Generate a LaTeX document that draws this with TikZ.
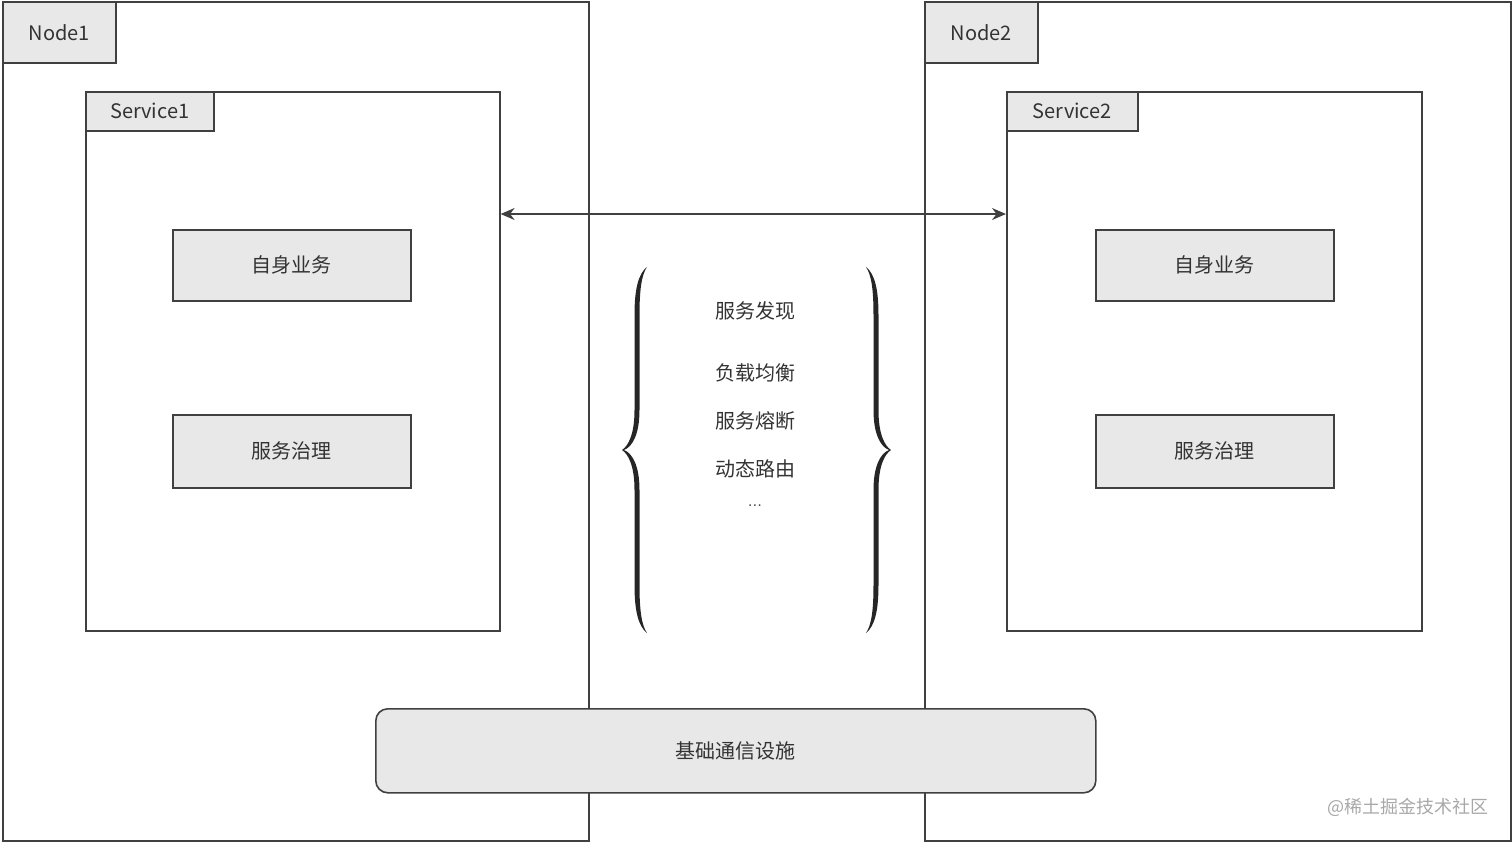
\documentclass[tikz,border=0pt]{standalone}
\usepackage{fontspec}
\newfontfamily\cjk{Noto Sans CJK SC}
\usetikzlibrary{arrows.meta, positioning}
\definecolor{linegray}{HTML}{404040}
\definecolor{boxgray}{HTML}{E8E8E8}
\definecolor{markgray}{HTML}{A8A8A8}

\begin{document}
\begin{tikzpicture}[x=0.5pt, y=-0.5pt, >=Stealth, font=\cjk\fontsize{10}{12}\selectfont,
    frame/.style={draw=linegray, line width=0.8pt, inner sep=0pt, anchor=north west},
    tab/.style={frame, fill=boxgray, text=black!80},
    func/.style={frame, fill=boxgray, text=black!80, minimum width=119pt},
    item/.style={text=black!80},
    curly/.pic={
        \fill[black!85] (25,-183) .. controls (16,-176) and (12.5,-160) .. (12.5,-135) -- (12.5,-40)
            .. controls (12.5,-15) and (6,-4) .. (0,0) .. controls (6,4) and (12.5,15) .. (12.5,40)
            -- (12.5,135) .. controls (12.5,160) and (16,176) .. (25,183)
            .. controls (19.5,175) and (17.5,160) .. (17.5,135) -- (17.5,40)
            .. controls (17.5,15) and (10,3) .. (2,0) .. controls (10,-3) and (17.5,-15) .. (17.5,-40)
            -- (17.5,-135) .. controls (17.5,-160) and (19.5,-175) .. (25,-183) -- cycle;
    }]
    \useasboundingbox (0,0) rectangle (1512,842);

    % 两个节点外框与左上角标签
    \node[frame, minimum width=293pt, minimum height=419.5pt] (node1) at (2,1) {};
    \node[frame, minimum width=293pt, minimum height=419.5pt] (node2) at (924,1) {};
    \node[tab, minimum width=56.5pt, minimum height=30.5pt] (tab1) at (node1.north west) {Node1};
    \node[tab, minimum width=56.5pt, minimum height=30.5pt] (tab2) at (node2.north west) {Node2};

    % 服务框
    \node[frame, minimum width=207pt, minimum height=269.5pt] (svc1) at (85,91) {};
    \node[frame, minimum width=207.5pt, minimum height=269.5pt] (svc2) at (1006,91) {};
    \node[tab, minimum width=64pt, minimum height=19.5pt] (stab1) at (svc1.north west) {Service1};
    \node[tab, minimum width=65.5pt, minimum height=19.5pt] (stab2) at (svc2.north west) {Service2};

    % 服务内部功能块
    \node[func, minimum height=35.5pt] (biz1) at (172,229) {自身业务};
    \node[func, minimum height=36.5pt] (gov1) at (172,414) {服务治理};
    \node[func, minimum height=35.5pt] (biz2) at (1095,229) {自身业务};
    \node[func, minimum height=36.5pt] (gov2) at (1095,414) {服务治理};

    % 服务之间的双向调用
    \draw[linegray, line width=0.8pt, {Stealth[length=7pt, width=6pt]}-{Stealth[length=7pt, width=6pt]}]
        (svc1.east |- 0,214) -- (svc2.west |- 0,214);

    % 中间的治理能力列表
    \pic (lbrace) at (622,450) {curly};
    \pic[xscale=-1] (rbrace) at (891,450) {curly};
    \node[item] (disc) at (755,311) {服务发现};
    \node[item] (lb) at (755,373) {负载均衡};
    \node[item] (cb) at (755,421) {服务熔断};
    \node[item] (route) at (755,469) {动态路由};
    \node[item, font=\fontsize{8}{9}\selectfont] (more) at (755,506) {...};

    % 底部基础设施
    \node[frame, fill=boxgray, rounded corners=6pt, minimum width=360pt, minimum height=42pt,
        text=black!80] (infra) at (375,708) {基础通信设施};

    % 水印
    \node[text=markgray, font=\cjk\fontsize{9}{11}\selectfont] (mark) at (1408,807) {@稀土掘金技术社区};
\end{tikzpicture}
\end{document}
